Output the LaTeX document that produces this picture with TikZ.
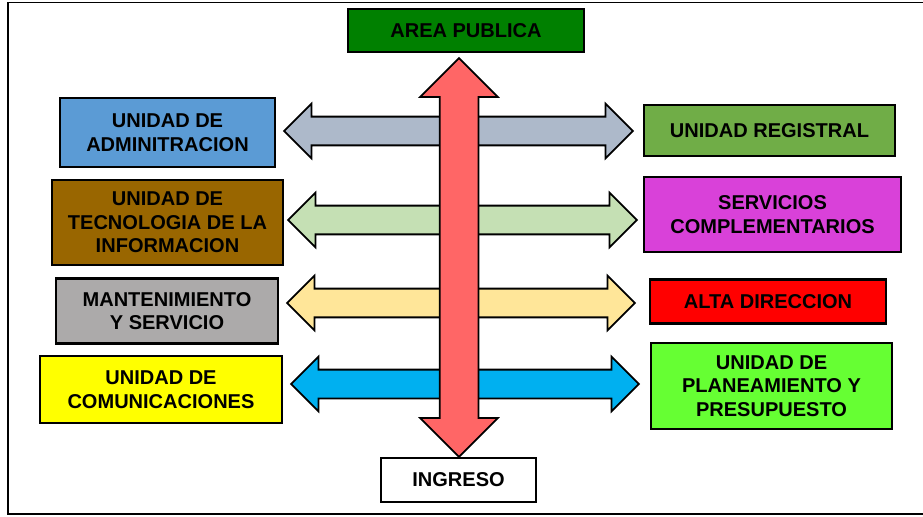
\documentclass[tikz,border=0pt]{standalone}
\usepackage{fontspec}
\setmainfont{Liberation Sans}
\usetikzlibrary{shapes.arrows}
\definecolor{PubGreen}{RGB}{0,128,0}
\definecolor{AdmBlue}{RGB}{91,155,213}
\definecolor{TecBrown}{RGB}{153,102,0}
\definecolor{ManGray}{RGB}{172,170,170}
\definecolor{ComYellow}{RGB}{255,255,0}
\definecolor{RegGreen}{RGB}{112,173,71}
\definecolor{SerMagenta}{RGB}{217,65,217}
\definecolor{AltRed}{RGB}{255,0,0}
\definecolor{PlaGreen}{RGB}{102,255,51}
\definecolor{ArrGray}{RGB}{173,185,202}
\definecolor{ArrGreen}{RGB}{197,224,180}
\definecolor{ArrPeach}{RGB}{255,230,153}
\definecolor{ArrBlue}{RGB}{0,176,240}
\definecolor{ArrRed}{RGB}{255,102,102}
\tikzset{
  unitbox/.style={draw=black,line width=1.3pt,align=center,inner sep=2pt,
    font=\fontsize{11.4}{13.4}\selectfont\bfseries},
  linkarrow/.style={double arrow,draw=black,line width=1pt,inner xsep=0pt,
    inner ysep=0.27cm,double arrow head extend=0.26cm,minimum height=#1},
}

\begin{document}
\begin{tikzpicture}[x=0.02cm,y=-0.02cm]
  \useasboundingbox (0,0) rectangle (923,517);
  % frame
  \draw[line width=1.1pt] (930,2.5) -- (8,2.5) -- (8,514) -- (930,514);

  % horizontal links
  \node[linkarrow=6.98cm,fill=ArrGray]  (lnkA) at (458.5,131) {};
  \node[linkarrow=6.98cm,fill=ArrGreen] (lnkB) at (462.5,220) {};
  \node[linkarrow=6.96cm,fill=ArrPeach] (lnkC) at (461,303) {};
  \node[linkarrow=6.96cm,fill=ArrBlue]  (lnkD) at (465,384) {};

  % main vertical link
  \node[linkarrow=7.98cm,rotate=90,inner ysep=0.37cm,
        double arrow head extend=0.39cm,fill=ArrRed] (main) at (459,257.5) {};

  % units
  \node[unitbox,fill=PubGreen,minimum width=4.72cm,minimum height=0.86cm] (pub) at (466,30.5) {AREA PUBLICA};
  \node[unitbox,fill=AdmBlue,minimum width=4.3cm,minimum height=1.38cm] (adm) at (167.5,132.5) {UNIDAD DE\\ADMINITRACION};
  \node[unitbox,fill=TecBrown,minimum width=4.62cm,minimum height=1.7cm] (tec) at (167.5,222.5) {UNIDAD DE\\TECNOLOGIA DE LA\\INFORMACION};
  \node[unitbox,fill=ManGray,minimum width=4.44cm,minimum height=1.3cm] (man) at (167,311) {MANTENIMIENTO\\Y SERVICIO};
  \node[unitbox,fill=ComYellow,minimum width=4.84cm,minimum height=1.34cm] (com) at (161,389.5) {UNIDAD DE\\COMUNICACIONES};
  \node[unitbox,fill=RegGreen,minimum width=5.02cm,minimum height=1.02cm] (reg) at (769.5,130.5) {UNIDAD REGISTRAL};
  \node[unitbox,fill=SerMagenta,minimum width=5.14cm,minimum height=1.5cm] (ser) at (772.5,214.5) {SERVICIOS\\COMPLEMENTARIOS};
  \node[unitbox,fill=AltRed,minimum width=4.72cm,minimum height=0.88cm] (alt) at (768,301.5) {ALTA DIRECCION};
  \node[unitbox,fill=PlaGreen,minimum width=4.82cm,minimum height=1.72cm] (pla) at (771.5,386) {UNIDAD DE\\PLANEAMIENTO Y\\PRESUPUESTO};
  \node[unitbox,fill=white,minimum width=3.1cm,minimum height=0.88cm] (ing) at (458.5,480) {INGRESO};
\end{tikzpicture}
\end{document}
